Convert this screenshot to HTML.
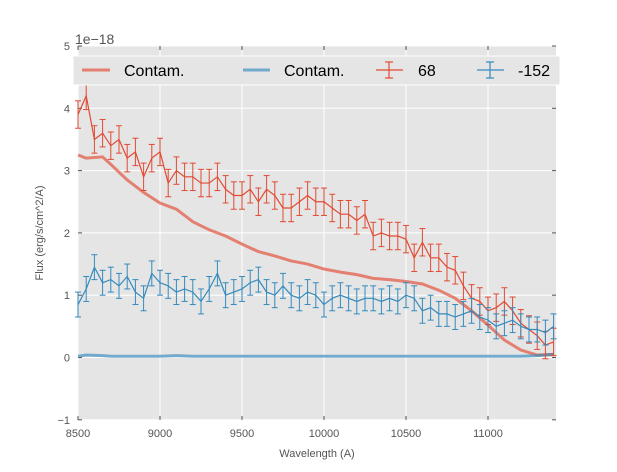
<!DOCTYPE html>
<html><head><meta charset="utf-8"><style>
body{margin:0;background:#fff;font-family:"Liberation Sans",sans-serif}
svg text{font-family:"Liberation Sans",sans-serif}
</style></head><body>
<svg id="chart" width="617" height="467">
<rect x="78" y="46" width="478" height="374" fill="#E5E5E5"/>
<g id="grid"></g>
<g id="axes"></g>
<g id="series"></g>
<text x="75" y="44" font-size="14" fill="#555">1e−18</text>
<text x="317" y="457" font-size="11" fill="#555" text-anchor="middle">Wavelength (A)</text>
<text transform="translate(43,233) rotate(-90)" font-size="11" fill="#555" text-anchor="middle">Flux (erg/s/cm^2/A)</text>
<g>
<rect x="73" y="56" width="487" height="29" fill="#E5E5E5" stroke="#fff" stroke-width="1"/>
<line x1="82" y1="70" x2="110" y2="70" stroke="#E24A33" stroke-opacity="0.65" stroke-width="3"/>
<text x="124" y="76" font-size="16" fill="#000">Contam.</text>
<line x1="243" y1="70" x2="270" y2="70" stroke="#348ABD" stroke-opacity="0.65" stroke-width="3"/>
<text x="284" y="76" font-size="16" fill="#000">Contam.</text>
<g stroke="#E24A33" stroke-width="1.2"><line x1="376" y1="70" x2="403" y2="70"/><line x1="389" y1="62" x2="389" y2="78"/><line x1="385" y1="62" x2="393" y2="62"/><line x1="385" y1="78" x2="393" y2="78"/></g>
<text x="418" y="76" font-size="16" fill="#000">68</text>
<g stroke="#348ABD" stroke-width="1.2"><line x1="477" y1="70" x2="504" y2="70"/><line x1="490" y1="62" x2="490" y2="78"/><line x1="486" y1="62" x2="494" y2="62"/><line x1="486" y1="78" x2="494" y2="78"/></g>
<text x="518" y="76" font-size="16" fill="#000">-152</text>
</g>
</svg>
<script>
const wave=[8500,8550,8600,8650,8700,8750,8800,8850,8900,8950,9000,9050,9100,9150,9200,9250,9300,9350,9400,9450,9500,9550,9600,9650,9700,9750,9800,9850,9900,9950,10000,10050,10100,10150,10200,10250,10300,10350,10400,10450,10500,10550,10600,10650,10700,10750,10800,10850,10900,10950,11000,11050,11100,11150,11200,11250,11300,11350,11400];
const flux68=[3.9,4.2,3.5,3.6,3.4,3.5,3.2,3.3,2.9,3.2,3.3,2.8,3.0,2.9,2.9,2.8,2.8,2.9,2.7,2.6,2.6,2.7,2.5,2.7,2.6,2.4,2.4,2.5,2.6,2.5,2.5,2.4,2.3,2.3,2.2,2.3,1.95,2.0,1.95,1.95,1.9,1.6,1.85,1.6,1.6,1.45,1.4,1.15,0.95,0.9,0.75,0.8,0.9,0.75,0.55,0.45,0.35,0.2,0.25];
const flux152=[0.85,1.1,1.45,1.2,1.25,1.15,1.3,1.05,0.95,1.35,1.2,1.15,1.05,1.1,1.05,0.9,1.1,1.35,1.0,1.05,1.1,1.2,1.25,1.05,1.0,1.15,1.0,0.95,1.05,1.0,0.85,0.95,1.0,0.95,0.9,0.95,0.95,0.9,0.95,0.9,1.0,0.95,0.75,0.8,0.7,0.7,0.65,0.7,0.75,0.65,0.6,0.5,0.55,0.6,0.5,0.45,0.45,0.4,0.5];
const err68=0.22, err152=0.2;
const contWave=[8500,8550,8650,8700,8800,8900,9000,9100,9200,9300,9400,9500,9600,9700,9800,9900,10000,10100,10200,10300,10400,10500,10600,10700,10800,10900,11000,11100,11200,11300,11400];
const contRed=[3.25,3.2,3.22,3.1,2.85,2.65,2.48,2.38,2.18,2.05,1.95,1.82,1.7,1.63,1.55,1.5,1.42,1.37,1.33,1.27,1.25,1.22,1.18,1.08,0.95,0.75,0.52,0.28,0.12,0.04,0.05];
const contBlue=[0.02,0.04,0.03,0.02,0.02,0.02,0.02,0.03,0.02,0.02,0.02,0.02,0.02,0.02,0.02,0.02,0.02,0.02,0.02,0.02,0.02,0.02,0.02,0.02,0.02,0.02,0.02,0.02,0.02,0.03,0.05];
const xTicks=[8500,9000,9500,10000,10500,11000];
const yTicks=[-1,0,1,2,3,4,5];
const NS="http://www.w3.org/2000/svg";
const X=w=>78+(w-8500)*0.164;
const Y=v=>357.5-v*62.3;
function mk(tag,attrs,parent){const e=document.createElementNS(NS,tag);for(const k in attrs)e.setAttribute(k,attrs[k]);parent.appendChild(e);return e;}
const grid=document.getElementById('grid'),axes=document.getElementById('axes'),ser=document.getElementById('series');
xTicks.forEach(t=>{
 const l=mk('line',{x1:X(t),x2:X(t),y1:46,y2:420,stroke:'#fff','stroke-width':1},grid);
 
 
 const tx=mk('text',{x:X(t),y:437,'font-size':11,fill:'#555','text-anchor':'middle'},axes);
 tx.textContent=t;
 
 
 mk('line',{x1:X(t),x2:X(t),y1:420,y2:416,stroke:'#555'},axes);
 mk('line',{x1:X(t),x2:X(t),y1:46,y2:50,stroke:'#555'},axes);
});
yTicks.forEach(t=>{
 const l=mk('line',{x1:78,x2:556,y1:Y(t),y2:Y(t),stroke:'#fff','stroke-width':1},grid);
 
 
 const tx=mk('text',{x:70,y:Y(t)+4,'font-size':11,fill:'#555','text-anchor':'end'},axes);
 tx.textContent=t<0?'−'+(-t):t;
 
 
 mk('line',{x1:78,x2:82,y1:Y(t),y2:Y(t),stroke:'#555'},axes);
 mk('line',{x1:552,x2:556,y1:Y(t),y2:Y(t),stroke:'#555'},axes);
});
function line(xs,ys,color,op,w,name){
 const p=mk('polyline',{points:xs.map((x,i)=>X(x)+','+Y(ys[i])).join(' '),fill:'none',stroke:color,'stroke-opacity':op,'stroke-width':w},ser);
 
 
}
function errs(ys,e,color,name){
 const g=mk('g',{stroke:color,'stroke-width':1},ser);
 
 
 wave.forEach((w,i)=>{const x=X(w);mk('line',{x1:x,x2:x,y1:Y(ys[i]-e),y2:Y(ys[i]+e)},g);
  mk('line',{x1:x-3,x2:x+3,y1:Y(ys[i]-e),y2:Y(ys[i]-e)},g);mk('line',{x1:x-3,x2:x+3,y1:Y(ys[i]+e),y2:Y(ys[i]+e)},g);});
 line(wave,ys,color,1,1.2,name+'-line');
}
line(contWave,contRed,'#E24A33',0.65,3,'contam-red-line');
line(contWave,contBlue,'#348ABD',0.65,3,'contam-blue-line');
errs(flux68,err68,'#E24A33','series-68');
errs(flux152,err152,'#348ABD','series-152');
</script>
</body></html>
